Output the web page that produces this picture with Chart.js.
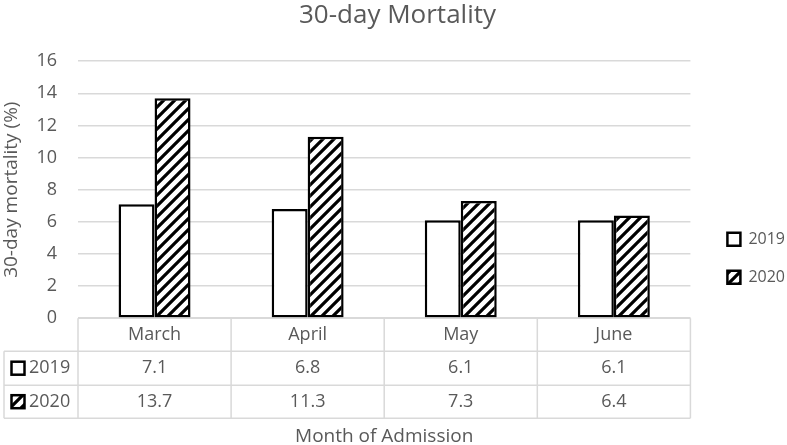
<!DOCTYPE html>
<html>
<head>
<meta charset="utf-8">
<script src="https://cdn.jsdelivr.net/npm/chart.js@4"></script>
<style>
  html, body { margin: 0; padding: 0; background: #fff; }
</style>
</head>
<body>
<canvas id="myChart" width="787" height="445"></canvas>
<script>
// data
const categories = ["March", "April", "May", "June"]
const seriesNames = ["2019", "2020"]
const values2019 = [7.1, 6.8, 6.1, 6.1]
const values2020 = [13.7, 11.3, 7.3, 6.4]

const TEXT = "#595959"
const GRID = "#d9d9d9"
const FONT = "'Open Sans', sans-serif"

// diagonal hatch for the 2020 bars
function makeHatch() {
  const t = 11
  const c = document.createElement("canvas")
  c.width = t
  c.height = t
  const g = c.getContext("2d")
  g.fillStyle = "#fff"
  g.fillRect(0, 0, t, t)
  g.strokeStyle = "#000"
  g.lineWidth = 3.2
  g.beginPath()
  g.moveTo(-t, 2 * t); g.lineTo(2 * t, -t)
  g.moveTo(-t, t); g.lineTo(t, -t)
  g.moveTo(0, 2 * t); g.lineTo(2 * t, 0)
  g.stroke()
  return g.createPattern(c, "repeat")
}
const hatch = makeHatch()

// data table under the x axis
const dataTable = {
  id: "dataTable",
  afterDraw(chart) {
    const ctx = chart.ctx
    const xs = chart.scales.x
    const ca = chart.chartArea
    const left = ca.left, right = ca.right, top = ca.bottom
    const outer = 4
    const rows = [top, top + 33, top + 67, top + 100]
    const n = categories.length
    const colW = (right - left) / n

    ctx.save()
    ctx.strokeStyle = GRID
    ctx.lineWidth = 1.5
    ctx.beginPath()
    ctx.moveTo(left, rows[0]); ctx.lineTo(right, rows[0])
    for (let r = 1; r < rows.length; r++) {
      ctx.moveTo(outer, rows[r]); ctx.lineTo(right, rows[r])
    }
    ctx.moveTo(outer, rows[1]); ctx.lineTo(outer, rows[3])
    for (let i = 0; i <= n; i++) {
      const x = left + i * colW
      ctx.moveTo(x, rows[0]); ctx.lineTo(x, rows[3])
    }
    ctx.stroke()

    ctx.fillStyle = TEXT
    ctx.font = "18px " + FONT
    ctx.textAlign = "center"
    ctx.textBaseline = "middle"
    const series = [values2019, values2020]
    categories.forEach((cat, i) => {
      const cx = xs.getPixelForValue(i)
      ctx.fillText(cat, cx, (rows[0] + rows[1]) / 2)
      series.forEach((vals, s) => {
        ctx.fillText(vals[i].toFixed(1), cx, (rows[s + 1] + rows[s + 2]) / 2)
      })
    })

    // row keys
    const fills = ["#fff", hatch]
    seriesNames.forEach((name, s) => {
      const cy = (rows[s + 1] + rows[s + 2]) / 2
      ctx.fillStyle = fills[s]
      ctx.fillRect(11.5, cy - 6.5, 13, 13)
      ctx.strokeStyle = "#000"
      ctx.lineWidth = 2.5
      ctx.strokeRect(11.5, cy - 6.5, 13, 13)
      ctx.fillStyle = TEXT
      ctx.textAlign = "left"
      ctx.fillText(name, 29, cy)
    })
    ctx.restore()
  },
}

const data = {
  labels: categories,
  datasets: [
    {
      label: seriesNames[0],
      data: values2019,
      backgroundColor: "#fff",
      borderColor: "#000",
      borderWidth: 2.5,
      borderSkipped: false,
    },
    {
      label: seriesNames[1],
      data: values2020,
      backgroundColor: hatch,
      borderColor: "#000",
      borderWidth: 2.5,
      borderSkipped: false,
    },
  ],
}

const config = {
  type: "bar",
  data: data,
  options: {
    responsive: false,
    animation: false,
    layout: { padding: { left: 0, right: -8, top: 0, bottom: 0 } },
    datasets: { bar: { categoryPercentage: 0.47, barPercentage: 1.0 } },
    scales: {
      x: {
        grid: { display: false, drawTicks: false },
        border: { display: false },
        ticks: { display: false },
        title: {
          display: true,
          text: "Month of Admission",
          color: TEXT,
          font: { family: FONT, size: 19 },
          padding: { top: 107, bottom: -3 },
        },
      },
      y: {
        min: 0,
        max: 16,
        grid: { color: GRID, lineWidth: 1.5, drawTicks: false },
        border: { display: false },
        ticks: {
          stepSize: 2,
          color: TEXT,
          padding: 21,
          font: { family: FONT, size: 18 },
        },
        title: {
          display: true,
          text: "30-day mortality (%)",
          color: TEXT,
          font: { family: FONT, size: 19 },
          padding: { top: 0, bottom: 0 },
        },
        afterFit(scale) { scale.width = 78 },
      },
      // empty spacer between the plot and the legend
      y2: {
        position: "right",
        grid: { display: false, drawTicks: false },
        border: { display: false },
        ticks: { display: false },
        afterFit(scale) { scale.width = 15 },
      },
    },
    plugins: {
      legend: {
        position: "right",
        title: { display: true, text: "", font: { size: 12 }, padding: { top: 57, bottom: 0 } },
        labels: {
          boxWidth: 13,
          boxHeight: 13,
          padding: 22,
          color: TEXT,
          font: { family: FONT, size: 16 },
          generateLabels(chart) {
            return Chart.defaults.plugins.legend.labels.generateLabels(chart)
              .map(l => ({ ...l, lineWidth: 2.5 }))
          },
        },
      },
      title: {
        display: true,
        text: "30-day Mortality",
        color: TEXT,
        font: { family: FONT, size: 26, weight: "normal" },
        padding: { top: 0, bottom: 30 },
      },
      tooltip: { enabled: false },
    },
  },
  plugins: [dataTable],
}

const myChart = new Chart(document.getElementById("myChart"), config)
</script>
</body>
</html>
